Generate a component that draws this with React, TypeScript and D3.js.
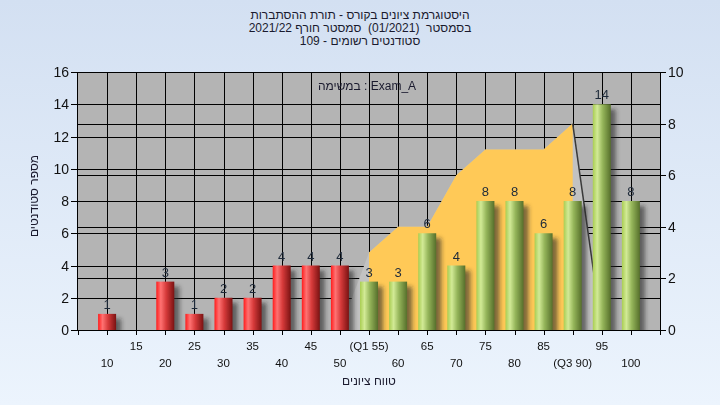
import React from 'react';
import * as d3 from 'd3';

// grade buckets (x axis) and number of students per bucket
const grades = [10, 15, 20, 25, 30, 35, 40, 45, 50, 55, 60, 65, 70, 75, 80, 85, 90, 95, 100];
const counts = [1, 0, 3, 1, 2, 2, 4, 4, 4, 3, 3, 6, 4, 8, 8, 6, 8, 14, 8];
const tickLabels = ['10', '15', '20', '25', '30', '35', '40', '45', '50', '(Q1 55)', '60', '65', '70', '75', '80', '85', '(Q3 90)', '95', '100'];
// background area series, read on the right axis
const areaValues = [0, 0, 0, 0, 0, 0, 0, 0, 0, 3, 4, 4, 6, 7, 7, 7, 8, 0, 0];
const q1Index = 9;
const q3Index = 16;
const passGrade = 55;

const leftTicks = [0, 2, 4, 6, 8, 10, 12, 14, 16];
const rightTicks = [0, 2, 4, 6, 8, 10];

const titleLines = [
  'היסטוגרמת ציונים בקורס - תורת ההסתברות',
  'בסמסטר  (01/2021)  סמסטר חורף 2021/22',
  'סטודנטים רשומים - 109',
];
const taskLabel = 'במשימה : Exam_A';
const xTitle = 'טווח ציונים';
const yTitle = 'מספר סטודנטים';

const W = 720;
const H = 405;
const plot = { left: 78, right: 660, top: 72, bottom: 330 };
const font = '"Liberation Sans", "DejaVu Sans", Arial, sans-serif';

const App: React.FC = () => {
  const x = d3.scaleLinear().domain([5, 105]).range([plot.left, plot.right]);
  const yL = d3.scaleLinear().domain([0, 16]).range([plot.bottom, plot.top]);
  const yR = d3.scaleLinear().domain([0, 10]).range([plot.bottom, plot.top]);
  const barW = 18;

  const fullArea = d3.area<number>()
    .x((_, i) => x(grades[i]))
    .y0(yR(0))
    .y1(d => yR(d))(areaValues) || '';
  const orangeArea = d3.area<number>()
    .x((_, i) => x(grades[q1Index + i]))
    .y0(yR(0))
    .y1(d => yR(d))(areaValues.slice(q1Index, q3Index + 1)) || '';
  const dropLine = d3.line<number>()
    .x((_, i) => x(grades[q3Index + i]))
    .y(d => yR(d))(areaValues.slice(q3Index, q3Index + 2)) || '';

  const xTicks = d3.range(5, 106, 5);
  const crisp = (v: number) => Math.round(v) + 0.5;

  return (
    <svg width={W} height={H} style={{ position: 'absolute', left: 0, top: 0 }} fontFamily={font}>
      <defs>
        <linearGradient id="bg" x1="0" y1="0" x2="0" y2="1">
          <stop offset="0%" stopColor="#d3e0f2" />
          <stop offset="100%" stopColor="#ecf4fd" />
        </linearGradient>
        <linearGradient id="red" x1="0" y1="0" x2="1" y2="0">
          <stop offset="0%" stopColor="#ff1c1c" />
          <stop offset="25%" stopColor="#ff7272" />
          <stop offset="55%" stopColor="#d63a3a" />
          <stop offset="100%" stopColor="#7a1212" />
        </linearGradient>
        <linearGradient id="green" x1="0" y1="0" x2="1" y2="0">
          <stop offset="0%" stopColor="#a9cd52" />
          <stop offset="25%" stopColor="#d2ea96" />
          <stop offset="55%" stopColor="#95b55a" />
          <stop offset="100%" stopColor="#566f2b" />
        </linearGradient>
        <filter id="blur" x="-50%" y="-50%" width="200%" height="200%">
          <feGaussianBlur stdDeviation="2" />
        </filter>
        <clipPath id="plotClip">
          <rect x={plot.left} y={plot.top} width={plot.right - plot.left} height={plot.bottom - plot.top} />
        </clipPath>
      </defs>

      <rect width={W} height={H} fill="url(#bg)" />

      {/* titles */}
      {titleLines.map((t, i) => (
        <text key={i} x={360} y={19 + i * 13} textAnchor="middle" fontSize={12} fill="#1a1a2e"
          style={{ whiteSpace: 'pre' }}>
          {t}
        </text>
      ))}

      {/* plot background */}
      <rect x={plot.left} y={plot.top} width={plot.right - plot.left} height={plot.bottom - plot.top} fill="#b4b4b4" />

      {/* grid */}
      <g stroke="#000" strokeWidth={1}>
        {grades.map(g => (
          <line key={'v' + g} x1={crisp(x(g))} x2={crisp(x(g))} y1={plot.top} y2={plot.bottom} />
        ))}
        {leftTicks.map(t => (
          <line key={'hl' + t} x1={plot.left} x2={plot.right} y1={crisp(yL(t))} y2={crisp(yL(t))} />
        ))}
        {rightTicks.map(t => (
          <line key={'hr' + t} x1={plot.left} x2={plot.right} y1={crisp(yR(t))} y2={crisp(yR(t))} />
        ))}
      </g>

      {/* area series */}
      <path d={fullArea} fill="#c2c2c2" />
      <path d={orangeArea} fill="#ffc957" />
      <path d={dropLine} fill="none" stroke="#3a3a3a" strokeWidth={1.5} />

      {/* bar shadows */}
      <g clipPath="url(#plotClip)" filter="url(#blur)">
        {counts.map((c, i) => c > 0 && (
          <rect key={'s' + i} x={x(grades[i]) - barW / 2 + 5} y={yL(c) + 5} width={barW} height={plot.bottom - yL(c)}
            fill="#2a2a2a" opacity={0.6} />
        ))}
      </g>

      {/* bars */}
      {counts.map((c, i) => c > 0 && (
        <rect key={'b' + i} x={x(grades[i]) - barW / 2} y={yL(c)} width={barW} height={plot.bottom - yL(c)}
          fill={grades[i] < passGrade ? 'url(#red)' : 'url(#green)'} />
      ))}

      {/* bar value labels */}
      {counts.map((c, i) => c > 0 && (
        <text key={'l' + i} x={x(grades[i])} y={yL(c) - 5} textAnchor="middle" fontSize={13} fill="#1e2a3a">
          {c}
        </text>
      ))}

      {/* task label */}
      <text x={367} y={90} textAnchor="middle" fontSize={12} fill="#1a1a2e">{taskLabel}</text>

      {/* axes */}
      <g stroke="#000" strokeWidth={1}>
        <line x1={plot.left} x2={plot.right} y1={plot.top + 0.5} y2={plot.top + 0.5} />
        <line x1={plot.left - 0.5} x2={plot.left - 0.5} y1={plot.top} y2={plot.bottom} />
        <line x1={plot.right + 0.5} x2={plot.right + 0.5} y1={plot.top} y2={plot.bottom} />
        <line x1={plot.left} x2={plot.right} y1={plot.bottom + 0.5} y2={plot.bottom + 0.5} />
        {leftTicks.map(t => (
          <line key={'lt' + t} x1={plot.left - 7} x2={plot.left} y1={crisp(yL(t))} y2={crisp(yL(t))} />
        ))}
        {rightTicks.map(t => (
          <line key={'rt' + t} x1={plot.right} x2={plot.right + 6} y1={crisp(yR(t))} y2={crisp(yR(t))} />
        ))}
        {xTicks.map(t => (
          <line key={'xt' + t} x1={crisp(x(t))} x2={crisp(x(t))} y1={plot.bottom} y2={plot.bottom + 5} />
        ))}
      </g>

      {leftTicks.map(t => (
        <text key={'ll' + t} x={plot.left - 9} y={yL(t)} dy="0.36em" textAnchor="end" fontSize={14} fill="#111">{t}</text>
      ))}
      {rightTicks.map(t => (
        <text key={'rl' + t} x={plot.right + 8} y={yR(t)} dy="0.36em" textAnchor="start" fontSize={14} fill="#111">{t}</text>
      ))}
      {grades.map((g, i) => (
        <text key={'xl' + g} x={x(g)} y={i % 2 === 0 ? 367 : 350} textAnchor="middle" fontSize={11.5} fill="#111">
          {tickLabels[i]}
        </text>
      ))}

      {/* axis titles */}
      <text x={369} y={385} textAnchor="middle" fontSize={12} fill="#1a1a2e">{xTitle}</text>
      <text transform="translate(38,196) rotate(-90)" textAnchor="middle" fontSize={12} fill="#1a1a2e">{yTitle}</text>
    </svg>
  );
};

export default App;
